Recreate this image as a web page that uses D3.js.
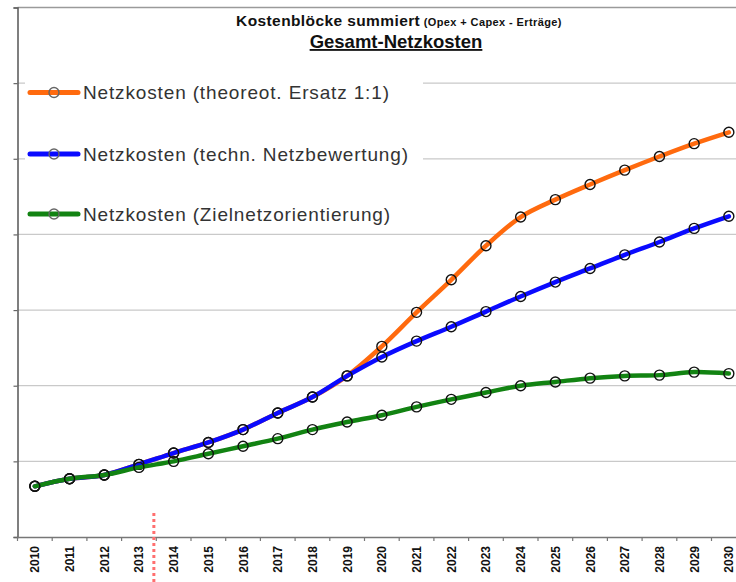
<!DOCTYPE html>
<html>
<head>
<meta charset="utf-8">
<script src="https://cdn.jsdelivr.net/npm/d3@7"></script>
<style>
  html, body { margin: 0; padding: 0; background: #fff; }
  svg { display: block; font-family: "Liberation Sans", Arial, sans-serif; }
</style>
</head>
<body>
<svg id="chart" width="736" height="582"></svg>
<script>
// ---- data (values in gridline units) ----
const years = ["2010","2011","2012","2013","2014","2015","2016","2017","2018","2019","2020",
               "2021","2022","2023","2024","2025","2026","2027","2028","2029","2030"];
const seriesNames = [
  "Netzkosten (theoreot. Ersatz 1:1)",
  "Netzkosten (techn. Netzbewertung)",
  "Netzkosten (Zielnetzorientierung)"
];
const seriesColors = ["#ff6a0e", "#0a0aff", "#128312"];
const ersatzValues = [0.67,0.77,0.82,0.96,1.11,1.25,1.42,1.64,1.85,2.13,2.52,
                      2.97,3.40,3.85,4.23,4.46,4.66,4.85,5.03,5.20,5.35];
const bewertungValues = [0.67,0.77,0.82,0.96,1.11,1.25,1.42,1.64,1.85,2.13,2.38,
                         2.59,2.78,2.98,3.18,3.37,3.55,3.73,3.90,4.08,4.24];
const zielnetzValues = [0.67,0.77,0.82,0.92,1.00,1.10,1.20,1.30,1.42,1.52,1.61,
                        1.72,1.82,1.91,2.00,2.05,2.10,2.13,2.14,2.18,2.16];
const yTicks = [0,1,2,3,4,5,6,7];
const titleMain = "Kostenblöcke summiert";
const titleSmall = " (Opex + Capex - Erträge)";
const subTitle = "Gesamt-Netzkosten";
const markerYear = "2013";

const allSeries = [ersatzValues, bewertungValues, zielnetzValues];

// ---- layout ----
const svg = d3.select("#chart");
const plotLeft = 17.5, plotTop = 7.5, plotBottom = 537;
const bw = 34.7;
const x = d3.scaleBand().domain(years).range([plotLeft, plotLeft + bw * years.length]).paddingInner(0).paddingOuter(0);
const y = d3.scaleLinear().domain([0, 7]).range([plotBottom, plotTop]);
const cx = d => x(d) + x.bandwidth() / 2;

// gridlines
svg.append("g").selectAll("line").data(yTicks.filter(t => t > 0)).join("line")
  .attr("x1", plotLeft).attr("x2", 736)
  .attr("y1", d => y(d)).attr("y2", d => y(d))
  .attr("stroke", d => d === 7 ? "#9a9a9a" : "#c9c9c9")
  .attr("stroke-width", d => d === 7 ? 1.5 : 1.2);

// y axis
const yAxis = d3.axisLeft(y).tickValues(yTicks).tickSize(4).tickFormat("");
const gy = svg.append("g").attr("transform", `translate(${plotLeft},0)`).call(yAxis);
gy.select(".domain").attr("stroke", "#555").attr("stroke-width", 1.5);
gy.selectAll(".tick line").attr("stroke", "#666").attr("stroke-width", 1.2);

// x axis
const xAxis = d3.axisBottom(x).tickSize(0).tickFormat(d => d);
const gx = svg.append("g").attr("transform", `translate(0,${plotBottom})`).call(xAxis);
gx.select(".domain").attr("stroke", "#777").attr("stroke-width", 1.6);
gx.selectAll(".tick text")
  .attr("font-size", 12).attr("font-weight", "bold").attr("fill", "#111")
  .attr("text-anchor", "end")
  .attr("transform", "translate(4.5,9) rotate(-90)")
  .attr("x", 0).attr("y", 0).attr("dy", 0);
// boundary ticks between categories
svg.append("g").selectAll("line").data(years.map((d, i) => i).concat([years.length])).join("line")
  .attr("x1", i => plotLeft + i * x.bandwidth()).attr("x2", i => plotLeft + i * x.bandwidth())
  .attr("y1", plotBottom).attr("y2", plotBottom + 4)
  .attr("stroke", "#777").attr("stroke-width", 1.2);

// red dotted marker
const mx = x(markerYear) + x.bandwidth() * 0.93;
svg.append("line").attr("x1", mx).attr("x2", mx).attr("y1", 513).attr("y2", 582)
  .attr("stroke", "#ff6f6f").attr("stroke-width", 3).attr("stroke-dasharray", "3,3");

// legend white background (hides gridlines)
svg.append("rect").attr("x", 25).attr("y", 62).attr("width", 398).attr("height", 160).attr("fill", "#fff");

// series
const line = d3.line().x((d, i) => cx(years[i])).y(d => y(d)).curve(d3.curveCatmullRom.alpha(0.5));
allSeries.forEach((vals, si) => {
  const g = svg.append("g");
  g.append("path").attr("d", line(vals)).attr("fill", "none")
    .attr("stroke", seriesColors[si]).attr("stroke-width", 4.5)
    .attr("stroke-linejoin", "round").attr("stroke-linecap", "round");
  g.selectAll("circle").data(vals).join("circle")
    .attr("cx", (d, i) => cx(years[i])).attr("cy", d => y(d)).attr("r", 5)
    .attr("fill", "none").attr("stroke", "#111").attr("stroke-width", 1.4);
});

// legend
const legendY = [92.5, 154, 214];
seriesNames.forEach((name, i) => {
  const g = svg.append("g");
  g.append("line").attr("x1", 30).attr("x2", 78).attr("y1", legendY[i]).attr("y2", legendY[i])
    .attr("stroke", seriesColors[i]).attr("stroke-width", 5).attr("stroke-linecap", "round");
  g.append("circle").attr("cx", 54).attr("cy", legendY[i]).attr("r", 5)
    .attr("fill", "none").attr("stroke", "#666").attr("stroke-width", 1.4);
  g.append("text").attr("x", 83).attr("y", legendY[i] + 6.8)
    .attr("font-size", 19).attr("letter-spacing", 0.85).attr("fill", "#333").text(name);
});

// titles
const t1 = svg.append("text").attr("x", 399).attr("y", 26).attr("text-anchor", "middle")
  .attr("font-weight", "bold").attr("fill", "#111").attr("letter-spacing", 0.4);
t1.append("tspan").attr("font-size", 15.5).text(titleMain);
t1.append("tspan").attr("font-size", 11).text(titleSmall);
svg.append("text").attr("x", 396).attr("y", 48).attr("text-anchor", "middle")
  .attr("font-weight", "bold").attr("font-size", 18.5).attr("fill", "#111")
  .attr("text-decoration", "underline").text(subTitle);
</script>
</body>
</html>
